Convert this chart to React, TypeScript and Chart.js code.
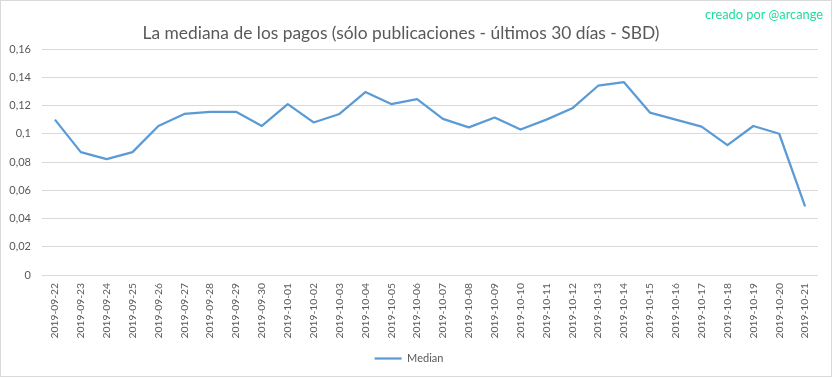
import React, { useEffect, useRef } from "react";
import { Chart, registerables } from "chart.js";

Chart.register(...registerables);

const categories = [
  "2019-09-22", "2019-09-23", "2019-09-24", "2019-09-25", "2019-09-26", "2019-09-27",
  "2019-09-28", "2019-09-29", "2019-09-30", "2019-10-01", "2019-10-02", "2019-10-03",
  "2019-10-04", "2019-10-05", "2019-10-06", "2019-10-07", "2019-10-08", "2019-10-09",
  "2019-10-10", "2019-10-11", "2019-10-12", "2019-10-13", "2019-10-14", "2019-10-15",
  "2019-10-16", "2019-10-17", "2019-10-18", "2019-10-19", "2019-10-20", "2019-10-21",
];

const medianValues = [
  0.110, 0.087, 0.082, 0.087, 0.1055, 0.114, 0.1155, 0.1155, 0.1055, 0.121,
  0.108, 0.114, 0.1295, 0.121, 0.1245, 0.1105, 0.1045, 0.1115, 0.103, 0.110,
  0.118, 0.134, 0.1365, 0.115, 0.110, 0.105, 0.092, 0.1055, 0.100, 0.0485,
];

const yTickValues = [0, 0.02, 0.04, 0.06, 0.08, 0.1, 0.12, 0.14, 0.16];
const yTickLabels = ["0", "0,02", "0,04", "0,06", "0,08", "0,1", "0,12", "0,14", "0,16"];

const seriesName = "Median";
const titleText = "La mediana de los pagos (sólo publicaciones - últimos 30 días - SBD)";
const creditText = "creado por @arcange";

const FONT = "Lato, 'Open Sans', sans-serif";
const GREY = "#595959";

const decorPlugin = {
  id: "decor",
  afterDraw(chart: any) {
    const ctx = chart.ctx;
    ctx.save();
    ctx.strokeStyle = "#d9d9d9";
    ctx.lineWidth = 1;
    ctx.strokeRect(0.5, 0.5, 831, 376);
    ctx.fillStyle = GREY;
    ctx.font = `17.4px ${FONT}`;
    ctx.textAlign = "center";
    ctx.textBaseline = "middle";
    ctx.fillText(titleText, 401, 33);
    ctx.fillStyle = "#1fdc9f";
    ctx.font = `12.8px ${FONT}`;
    ctx.textAlign = "right";
    ctx.fillText(creditText, 823, 15);
    ctx.restore();
  },
  beforeDraw(chart: any) {
    const ctx = chart.ctx;
    ctx.save();
    ctx.fillStyle = "#ffffff";
    ctx.fillRect(0, 0, chart.width, chart.height);
    ctx.restore();
  },
};

export default function App() {
  const ref = useRef<HTMLCanvasElement | null>(null);
  useEffect(() => {
    if (!ref.current) return;
    const chart = new Chart(ref.current, {
      type: "line",
      data: {
        labels: categories,
        datasets: [
          {
            label: seriesName,
            data: medianValues,
            borderColor: "#5b9bd5",
            backgroundColor: "#5b9bd5",
            borderWidth: 2.25,
            pointRadius: 0,
            pointHoverRadius: 0,
            tension: 0,
            borderJoinStyle: "round",
          },
        ],
      },
      options: {
        responsive: false,
        animation: false,
        layout: { padding: { top: 49, right: 15, left: 0, bottom: 4 } },
        plugins: {
          title: { display: false },
          tooltip: { enabled: false },
          legend: {
            display: true,
            position: "bottom",
            labels: {
              usePointStyle: true,
              pointStyle: "line",
              pointStyleWidth: 27,
              color: GREY,
              font: { family: FONT, size: 11 },
              padding: 4,
            },
          },
        },
        scales: {
          x: {
            type: "category",
            offset: true,
            grid: { display: false, drawTicks: false },
            border: { display: false },
            ticks: {
              maxRotation: 90,
              minRotation: 90,
              autoSkip: false,
              padding: 8,
              color: GREY,
              font: { family: FONT, size: 10.3 },
            },
            afterFit(scale: any) {
              scale.height = 74;
            },
          },
          y: {
            min: 0,
            max: 0.16,
            afterBuildTicks(scale: any) {
              scale.ticks = yTickValues.map((v) => ({ value: v }));
            },
            grid: { color: "#d9d9d9", lineWidth: 1, drawTicks: false },
            border: { display: false },
            ticks: {
              padding: 11,
              color: GREY,
              font: { family: FONT, size: 11 },
              callback(value: any) {
                const i = yTickValues.findIndex((v) => Math.abs(v - Number(value)) < 1e-9);
                return i >= 0 ? yTickLabels[i] : "";
              },
            },
            afterFit(scale: any) {
              scale.width = 42;
            },
          },
        },
      },
      plugins: [decorPlugin],
    });
    return () => chart.destroy();
  }, []);
  return (
    <div style={{ position: "absolute", left: 0, top: 0, width: 833, height: 378 }}>
      <canvas ref={ref} width={833} height={378} />
    </div>
  );
}
